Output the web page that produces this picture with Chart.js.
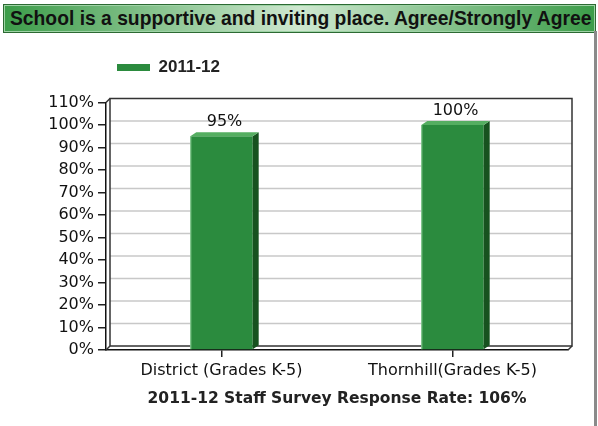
<!DOCTYPE html>
<html><head><meta charset="utf-8">
<script src="https://cdn.jsdelivr.net/npm/chart.js@4"></script>
<style>
html,body{margin:0;padding:0;background:#fff;width:598px;height:426px;overflow:hidden;}
#wrap{position:relative;width:598px;height:426px;}
#banner{position:absolute;left:3px;top:4px;width:593px;height:29px;box-sizing:border-box;border:1px solid #2c6a33;box-shadow:inset 0 0 0 1px #9fd3a6;background:linear-gradient(to right,#3c9c49 0%,#cfe8d0 50%,#3c9c49 100%);font:bold 19.3px "Liberation Sans",Arial,sans-serif;color:#111;line-height:27px;white-space:nowrap;overflow:hidden;padding-left:6px;}
#edge{position:absolute;left:594px;top:31px;width:3px;height:395px;background:#8a8a8a;}
canvas{position:absolute;left:0;top:0;}
</style>
</head><body>
<div id="wrap">
<canvas id="c" width="598" height="426"></canvas>
<div id="banner"></div>
<div id="edge"></div>
</div>
<script>
const chartTitle = 'School is a supportive and inviting place. Agree/Strongly Agree';
const xAxisTitle = '2011-12 Staff Survey Response Rate: 106%';
const categories = ['District (Grades K-5)', 'Thornhill(Grades K-5)'];
const seriesName = '2011-12';
const values = [95, 100];
const yTickValues = [0, 10, 20, 30, 40, 50, 60, 70, 80, 90, 100, 110];

document.getElementById('banner').textContent = chartTitle;

const D3 = {dx: 4, dy: -4, bdx: 6, bdy: -4};
const GREEN = '#2b8b3e', SIDE = '#17521f', TOP = '#55ae61';

const legendGap = {
  id: 'legendGap',
  beforeLayout(chart) {
    const lg = chart.legend;
    if (lg && !lg.__p) {
      const f = lg.fit.bind(lg);
      lg.fit = function () { f(); this.height = 54.5; };
      lg.__p = true;
    }
  }
};

const threeD = {
  id: 'threeD',
  beforeDatasetsDraw(chart) {
    const {ctx, chartArea: {left, right, top, bottom}, scales: {y}} = chart;
    ctx.save();
    ctx.strokeStyle = '#c8c8c8';
    ctx.lineWidth = 1.5;
    yTickValues.forEach(v => {
      if (v === 0 || v === yTickValues[yTickValues.length - 1]) return;
      const py = y.getPixelForValue(v) + D3.dy;
      ctx.beginPath();
      ctx.moveTo(left + D3.dx, py);
      ctx.lineTo(right + D3.dx, py);
      ctx.stroke();
    });
    ctx.strokeStyle = '#333';
    ctx.lineWidth = 1.5;
    ctx.strokeRect(left + D3.dx, top + D3.dy, right - left, bottom - top);
    ctx.beginPath();
    ctx.moveTo(left, top); ctx.lineTo(left + D3.dx, top + D3.dy);
    ctx.moveTo(right, bottom); ctx.lineTo(right + D3.dx, bottom + D3.dy);
    ctx.moveTo(left, bottom); ctx.lineTo(left + D3.dx, bottom + D3.dy);
    ctx.stroke();
    ctx.restore();
  },
  afterDatasetsDraw(chart) {
    const {ctx} = chart;
    const meta = chart.getDatasetMeta(0);
    ctx.save();
    meta.data.forEach((bar, i) => {
      const {x, y, base, width} = bar.getProps(['x', 'y', 'base', 'width'], true);
      const l = x - width / 2, r = x + width / 2;
      ctx.fillStyle = SIDE;
      ctx.beginPath();
      ctx.moveTo(r, y); ctx.lineTo(r + D3.bdx, y + D3.bdy);
      ctx.lineTo(r + D3.bdx, base + D3.bdy); ctx.lineTo(r, base);
      ctx.closePath(); ctx.fill();
      ctx.fillStyle = TOP;
      ctx.beginPath();
      ctx.moveTo(l, y); ctx.lineTo(l + D3.bdx, y + D3.bdy);
      ctx.lineTo(r + D3.bdx, y + D3.bdy); ctx.lineTo(r, y);
      ctx.closePath(); ctx.fill();
      ctx.strokeStyle = '#8fd09a';
      ctx.lineWidth = 1;
      ctx.beginPath();
      ctx.moveTo(l + 0.5, y); ctx.lineTo(l + 0.5, base);
      ctx.stroke();
      ctx.fillStyle = '#111';
      ctx.font = '16px "DejaVu Sans"';
      ctx.textAlign = 'center';
      ctx.textBaseline = 'bottom';
      ctx.fillText(values[i] + '%', x + D3.bdx / 2, y + D3.bdy - 2);
    });
    ctx.restore();
  }
};

Chart.defaults.font.family = '"DejaVu Sans", sans-serif';
Chart.defaults.color = '#111';

new Chart(document.getElementById('c'), {
  type: 'bar',
  data: {
    labels: categories,
    datasets: [{
      label: seriesName,
      data: values,
      backgroundColor: GREEN,
      borderWidth: 0,
      barPercentage: 0.27,
      categoryPercentage: 1
    }]
  },
  options: {
    responsive: false,
    animation: false,
    layout: {padding: {top: 48, right: 30, bottom: 0, left: 0}},
    plugins: {
      title: {display: false},
      tooltip: {enabled: false},
      legend: {
        display: true,
        position: 'top',
        align: 'start',
        fullSize: false,
        labels: {
          boxWidth: 33,
          boxHeight: 7,
          padding: 11,
          color: '#222',
          font: {family: '"Liberation Sans", Arial, sans-serif', size: 17, weight: 'bold'}
        }
      }
    },
    scales: {
      x: {
        type: 'category',
        offset: true,
        afterFit(s) { s.height = 76; },
        grid: {display: true, drawOnChartArea: false, drawTicks: true, tickLength: 7, offset: false, color: '#222', lineWidth: 1.5},
        border: {display: true, color: '#111', width: 1.5},
        ticks: {font: {size: 16}, padding: 4, color: '#111', maxRotation: 0},
        title: {display: true, text: xAxisTitle, color: '#222', font: {size: 15.5, weight: 'bold'}, padding: {top: 0, bottom: 18}}
      },
      y: {
        min: 0,
        max: 110,
        afterFit(s) { s.width = 106; },
        afterBuildTicks(s) { s.ticks = yTickValues.map(v => ({value: v})); },
        grid: {display: true, drawOnChartArea: false, drawTicks: true, tickLength: 8, color: '#222', lineWidth: 1.5},
        border: {display: true, color: '#111', width: 1.5},
        ticks: {font: {size: 16}, padding: 4, color: '#111', callback: v => v + '%'}
      }
    }
  },
  plugins: [legendGap, threeD]
});
</script>
</body></html>
